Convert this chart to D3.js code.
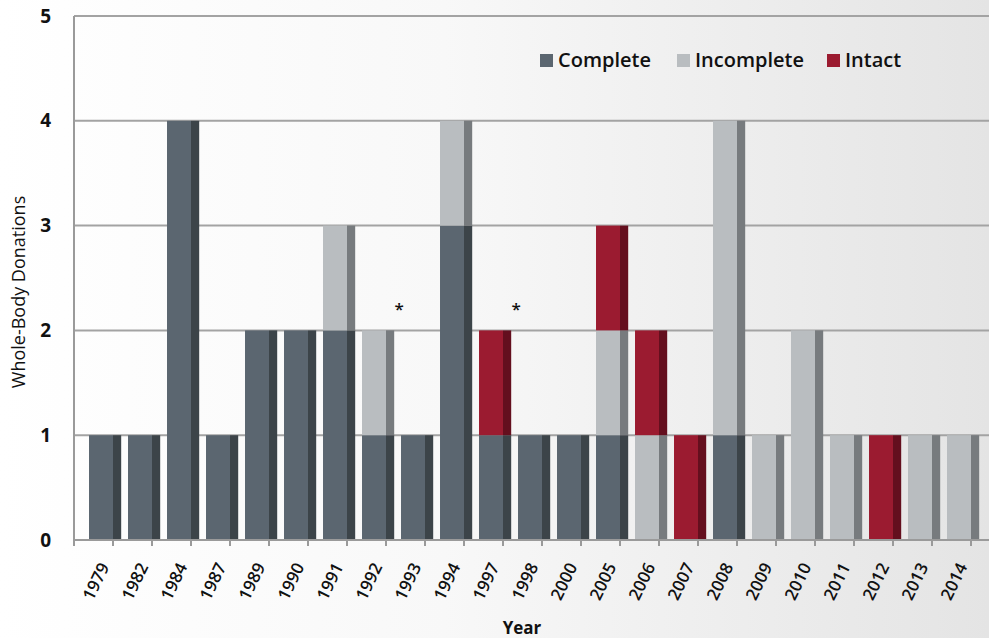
<!DOCTYPE html>
<html>
<head>
<meta charset="utf-8">
<script src="https://cdn.jsdelivr.net/npm/d3@7"></script>
<style>
  html, body { margin: 0; padding: 0; background: #fff; }
  svg text { font-family: "Open Sans", "DejaVu Sans", sans-serif; fill: #111; }
</style>
</head>
<body>
<div id="chart"></div>
<script>
// data
var years = ["1979","1982","1984","1987","1989","1990","1991","1992","1993","1994","1997","1998",
             "2000","2005","2006","2007","2008","2009","2010","2011","2012","2013","2014"];
var complete   = [1,1,4,1,2,2,2,1,1,3,1,1,1,1,0,0,1,0,0,0,0,0,0];
var incomplete = [0,0,0,0,0,0,1,1,0,1,0,0,0,1,1,0,3,1,2,1,0,1,1];
var intact     = [0,0,0,0,0,0,0,0,0,0,1,0,0,1,1,1,0,0,0,0,1,0,0];
var seriesNames = ["Complete","Incomplete","Intact"];
var yTicks = [0,1,2,3,4,5];
var starYears = ["1993","1998"];
var starLevel = 2.2;

var W = 989, H = 638;
var plotLeft = 74, plotTop = 16, plotBottom = 540;
var step = 39;

var colors = {
    Complete:   {front: "#5b6670", side: "#3c4449"},
    Incomplete: {front: "#b9bdc0", side: "#777b7e"},
    Intact:     {front: "#9b1b30", side: "#640f1e"}
};

var rows = years.map(function(yr, i) {
    return {year: yr, Complete: complete[i], Incomplete: incomplete[i], Intact: intact[i]};
});

var x = d3.scaleBand().domain(years).range([plotLeft, plotLeft + step * years.length]).padding(0);
var y = d3.scaleLinear().domain([0, 5]).range([plotBottom, plotTop]);
var bw = x.bandwidth();

var svg = d3.select("#chart").append("svg")
    .attr("width", W).attr("height", H);

var grad = svg.append("defs").append("linearGradient")
    .attr("id", "bg").attr("x1", "0").attr("x2", "1").attr("y1", "0").attr("y2", "0");
grad.append("stop").attr("offset", "0").attr("stop-color", "#ffffff");
grad.append("stop").attr("offset", "0.45").attr("stop-color", "#f8f8f8");
grad.append("stop").attr("offset", "1").attr("stop-color", "#e4e4e4");

svg.append("rect").attr("width", W).attr("height", H).attr("fill", "url(#bg)");

// gridlines
svg.append("g").selectAll("line").data(yTicks.filter(function(d) { return d > 0; }))
    .enter().append("line")
    .attr("x1", plotLeft).attr("x2", W)
    .attr("y1", function(d) { return y(d); }).attr("y2", function(d) { return y(d); })
    .attr("stroke", "#a3a3a3").attr("stroke-width", 2);

// stacked bars with a dark side face
var stack = d3.stack().keys(seriesNames)(rows);
var layers = svg.append("g").selectAll("g").data(stack).enter().append("g");
layers.each(function(layer) {
    var g = d3.select(this);
    var c = colors[layer.key];
    var segs = layer.filter(function(d) { return d[1] > d[0]; });
    g.selectAll("rect.front").data(segs).enter().append("rect")
        .attr("class", "front")
        .attr("x", function(d) { return x(d.data.year) + bw * 0.385; })
        .attr("width", bw * 0.615)
        .attr("y", function(d) { return y(d[1]); })
        .attr("height", function(d) { return y(d[0]) - y(d[1]); })
        .attr("fill", c.front);
    g.selectAll("rect.side").data(segs).enter().append("rect")
        .attr("class", "side")
        .attr("x", function(d) { return x(d.data.year) + bw; })
        .attr("width", bw * 0.21)
        .attr("y", function(d) { return y(d[1]); })
        .attr("height", function(d) { return y(d[0]) - y(d[1]); })
        .attr("fill", c.side);
});

// axes lines
svg.append("line").attr("x1", plotLeft).attr("x2", plotLeft).attr("y1", plotTop).attr("y2", plotBottom + 1)
    .attr("stroke", "#9a9a9a").attr("stroke-width", 2);
svg.append("line").attr("x1", plotLeft).attr("x2", W).attr("y1", plotBottom).attr("y2", plotBottom)
    .attr("stroke", "#9a9a9a").attr("stroke-width", 2);

// tick marks at band boundaries
var bounds = years.map(function(d) { return x(d); }).concat([x.range()[1]]);
svg.append("g").selectAll("line").data(bounds).enter().append("line")
    .attr("x1", function(d) { return d; }).attr("x2", function(d) { return d; })
    .attr("y1", plotBottom).attr("y2", plotBottom + 6)
    .attr("stroke", "#9a9a9a").attr("stroke-width", 2);

// x tick labels
var xAxis = svg.append("g").attr("transform", "translate(0," + plotBottom + ")")
    .call(d3.axisBottom(x).tickSize(0));
xAxis.select(".domain").remove();
xAxis.selectAll("text")
    .attr("font-size", 17).attr("font-weight", 600)
    .attr("font-family", "Open Sans, sans-serif")
    .style("text-anchor", "end")
    .attr("dy", "0.35em").attr("y", 0)
    .attr("transform", "translate(11,24) rotate(-64)");

// y tick labels
var yAxis = svg.append("g").attr("transform", "translate(" + plotLeft + ",0)")
    .call(d3.axisLeft(y).tickValues(yTicks).tickFormat(d3.format("d")).tickSize(0).tickPadding(23));
yAxis.select(".domain").remove();
yAxis.selectAll("text").attr("font-size", 19).attr("font-weight", 700)
    .attr("font-family", "Open Sans, sans-serif");

// asterisks
svg.append("g").selectAll("text").data(starYears).enter().append("text")
    .attr("x", function(d) { return x(d) + bw * 0.34; })
    .attr("y", y(starLevel) + 6)
    .attr("text-anchor", "middle").attr("font-size", 17).attr("font-weight", 600)
    .text("*");

// axis titles
svg.append("text").attr("x", 522).attr("y", 634).attr("text-anchor", "middle")
    .attr("font-size", 17).attr("font-weight", 700).text("Year");
svg.append("text").attr("transform", "translate(25,292) rotate(-90)")
    .attr("text-anchor", "middle").attr("font-size", 18).attr("font-weight", 400)
    .text("Whole-Body Donations");

// legend
var legendX = [540, 677, 827];
var legend = svg.append("g").selectAll("g").data(seriesNames).enter().append("g")
    .attr("transform", function(d, i) { return "translate(" + legendX[i] + ",54)"; });
legend.append("rect").attr("width", 13).attr("height", 13)
    .attr("fill", function(d) { return colors[d].front; });
legend.append("text").attr("x", 18).attr("y", 13)
    .attr("font-size", 20).attr("font-weight", 600)
    .text(function(d) { return d; });
</script>
</body>
</html>
